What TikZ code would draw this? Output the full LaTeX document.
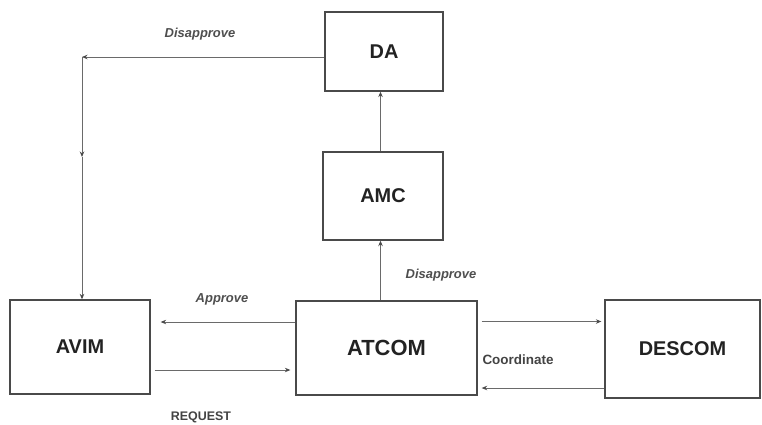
\documentclass[tikz,border=0pt]{standalone}
\usepackage{fontspec}
\setmainfont{Liberation Sans}
\usetikzlibrary{arrows.meta}
\definecolor{boxline}{HTML}{4A4A4A}
\definecolor{arrline}{HTML}{6A6A6A}
\definecolor{txt}{HTML}{222222}
\begin{document}
\begin{tikzpicture}[x=1bp,y=-1bp,
  box/.style={draw=boxline,line width=1.3bp,minimum width=#1,inner sep=0pt,
    font=\fontsize{20}{20}\selectfont\bfseries,text=txt},
  arr/.style={draw=arrline,line width=1bp,-{Stealth[length=5.5bp,width=4.5bp,color=boxline]}},
  lbl/.style={font=\fontsize{13}{13}\selectfont\bfseries\itshape,text=txt!80,inner sep=0pt},
  plbl/.style={font=\fontsize{13.5}{13.5}\selectfont\bfseries,text=txt!85,inner sep=0pt}]
\useasboundingbox (0,0) rectangle (762,424);
\node[box=118bp,minimum height=79bp] (DA) at (384,51.5) {DA};
\node[box=120bp,minimum height=88bp] (AMC) at (383,196) {AMC};
\node[box=140bp,minimum height=94bp] (AVIM) at (80,347) {AVIM};
\node[box=181bp,minimum height=94bp,font=\fontsize{22}{22}\selectfont\bfseries] (ATCOM) at (386.5,348) {ATCOM};
\node[box=155bp,minimum height=98bp] (DESCOM) at (682.5,349) {DESCOM};
% helper coordinates
\coordinate (corner) at (82,57);
\coordinate (mid) at (82,157);
\coordinate (vx) at (380.5,0);
\coordinate (appy) at (0,322);
\coordinate (reqy) at (0,370);
\coordinate (coy) at (0,321.5);
\coordinate (cby) at (0,388);
% connectors
\draw[arr] (corner -| DA.west) -- (corner);
\draw[arr] (corner) -- (mid);
\draw[arr] (mid) -- (corner |- AVIM.north);
\draw[arr] (AMC.north -| vx) -- (DA.south -| vx);
\draw[arr] (ATCOM.north -| vx) -- (AMC.south -| vx);
\draw[arr] (ATCOM.west |- appy) -- ([xshift=10bp]AVIM.east |- appy);
\draw[arr] ([xshift=4bp]AVIM.east |- reqy) -- ([xshift=-5bp]ATCOM.west |- reqy);
\draw[arr] ([xshift=4bp]ATCOM.east |- coy) -- ([xshift=-3bp]DESCOM.west |- coy);
\draw[arr] (DESCOM.west |- cby) -- ([xshift=4bp]ATCOM.east |- cby);
% labels
\node[lbl] (l1) at (200,34) {Disapprove};
\node[lbl] (l2) at (441,275) {Disapprove};
\node[lbl] (l3) at (222,299) {Approve};
\node[plbl] (l4) at (518,360) {Coordinate};
\node[plbl,font=\fontsize{12.5}{12.5}\selectfont\bfseries] (l5) at (201,417) {REQUEST};
\end{tikzpicture}
\end{document}
